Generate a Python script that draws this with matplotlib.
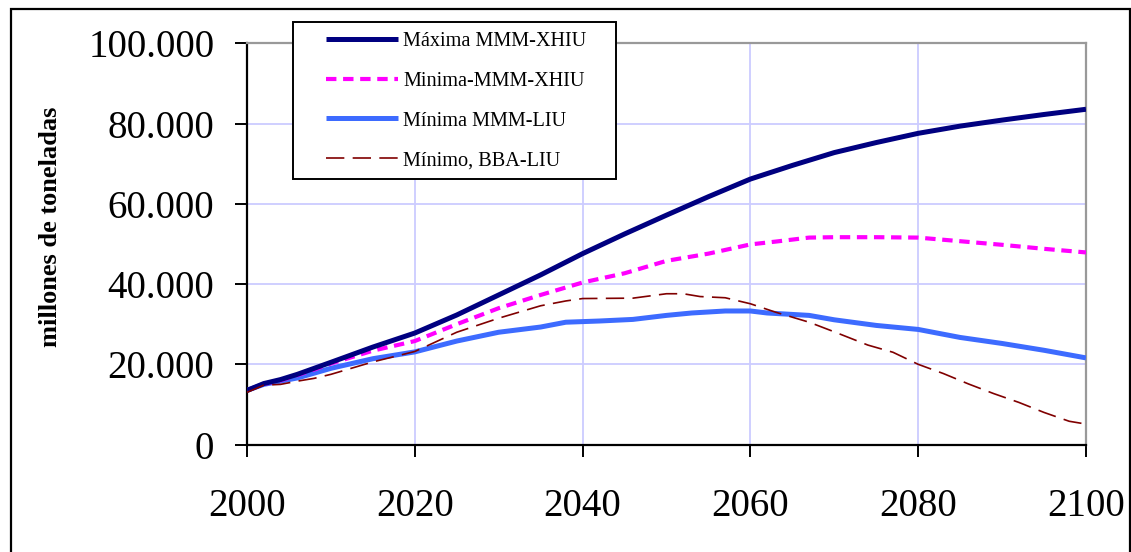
import matplotlib
matplotlib.use("Agg")
import matplotlib.pyplot as plt
from matplotlib.patches import Rectangle

plt.rcParams['font.family'] = ['Liberation Serif', 'DejaVu Serif']

# Máxima MMM-XHIU
years_max = [2000, 2002, 2004, 2006, 2008, 2010, 2015, 2020, 2025, 2030, 2035, 2040,
             2045, 2050, 2055, 2060, 2065, 2070, 2075, 2080, 2085, 2090, 2095, 2100]
max_xhiu = [13500, 15200, 16200, 17500, 19000, 20500, 24300, 27800, 32300, 37300, 42300, 47600,
            52500, 57200, 61800, 66200, 69600, 72800, 75300, 77600, 79400, 80900, 82300, 83600]

# Minima-MMM-XHIU
years_min = [2000, 2002, 2004, 2006, 2008, 2010, 2015, 2020, 2025, 2030, 2035, 2040, 2045,
             2050, 2055, 2060, 2063, 2067, 2070, 2075, 2080, 2085, 2090, 2095, 2100]
min_xhiu = [13500, 15100, 16000, 17300, 18700, 20200, 23400, 25800, 30000, 34000, 37300, 40400, 42700,
            45800, 47600, 49900, 50600, 51600, 51700, 51700, 51600, 50700, 49800, 48800, 47900]

# Mínima MMM-LIU
years_liu = [2000, 2002, 2004, 2006, 2008, 2010, 2015, 2020, 2025, 2030, 2035, 2038, 2042, 2046,
             2050, 2053, 2057, 2060, 2062, 2067, 2070, 2075, 2080, 2085, 2090, 2095, 2100]
min_liu = [13500, 15000, 15800, 16600, 17800, 19000, 21400, 23100, 25800, 28000, 29300, 30500, 30800, 31200,
           32200, 32800, 33300, 33300, 32800, 32200, 31100, 29700, 28700, 26700, 25200, 23500, 21600]

# Mínimo, BBA-LIU
years_bba = [2000, 2002, 2004, 2006, 2008, 2010, 2015, 2020, 2025, 2030, 2035, 2038, 2040, 2046,
             2050, 2052, 2054, 2057, 2060, 2063, 2067, 2070, 2074, 2077, 2080, 2083, 2086, 2089,
             2092, 2095, 2098, 2100]
min_bba = [13000, 14800, 15000, 15800, 16500, 17500, 20600, 23200, 28000, 31500, 34600, 35800, 36400, 36500,
           37600, 37600, 36900, 36600, 35100, 33000, 30500, 28100, 24800, 23000, 20000, 17700, 15100, 12700,
           10500, 8000, 5800, 5100]

xticks = [2000, 2020, 2040, 2060, 2080, 2100]
yticks = [0, 20000, 40000, 60000, 80000, 100000]
ytick_labels = ["0", "20.000", "40.000", "60.000", "80.000", "100.000"]

fig = plt.figure(figsize=(11.31, 5.52), dpi=100)
ax = fig.add_axes([0.2184, 0.1947, 0.7418, 0.7265])

ax.plot(years_max, max_xhiu, color="#000080", lw=3.6, solid_capstyle="butt", label="Máxima MMM-XHIU", zorder=5)
ax.plot(years_min, min_xhiu, color="#ff00ff", lw=3.0, dashes=(2.5, 1.6), label="Minima-MMM-XHIU", zorder=4)
ax.plot(years_liu, min_liu, color="#3d6bff", lw=3.6, solid_capstyle="butt", label="Mínima MMM-LIU", zorder=3)
ax.plot(years_bba, min_bba, color="#800000", lw=1.2, dashes=(11, 5), label="Mínimo, BBA-LIU", zorder=6)

ax.set_xlim(2000, 2100)
ax.set_ylim(0, 100000)
ax.set_xticks(xticks)
ax.set_yticks(yticks)
ax.set_yticklabels(ytick_labels)
ax.grid(True, color="#ccccff", lw=1.3)
ax.set_axisbelow(True)

for side in ["left", "bottom"]:
    ax.spines[side].set_color("black")
    ax.spines[side].set_linewidth(1.6)
for side in ["top", "right"]:
    ax.spines[side].set_color("#999999")
    ax.spines[side].set_linewidth(1.6)

ax.tick_params(axis="both", direction="out", length=8.5, width=1.4, labelsize=28, color="black")
ax.tick_params(axis="y", pad=15)
ax.tick_params(axis="x", pad=23)

ax.set_ylabel("millones de toneladas", fontsize=19, fontweight="bold")
ax.yaxis.set_label_coords(-0.2205, 0.542)

# legend box (drawn under the legend entries)
ax.add_patch(Rectangle((293 / 1131, 1 - 179 / 552), (616 - 293) / 1131, (179 - 22) / 552,
                       transform=fig.transFigure, facecolor="white", edgecolor="black",
                       lw=1.4, zorder=9, clip_on=False))

leg = ax.legend(loc="upper left", bbox_to_anchor=(326 / 1131, 1 - 32 / 552), bbox_transform=fig.transFigure,
                frameon=False, fontsize=14.6, handlelength=3.55, handletextpad=0.25, labelspacing=1.01,
                borderpad=0, borderaxespad=0)
leg.set_zorder(10)

# outer border
fig.patches.append(Rectangle((10.5 / 1131, -0.1), (1130 - 10.5) / 1131, 1.1 - 9 / 552,
                             transform=fig.transFigure, fill=False, edgecolor="black", lw=1.6))

fig.savefig("out.png", dpi=100)
